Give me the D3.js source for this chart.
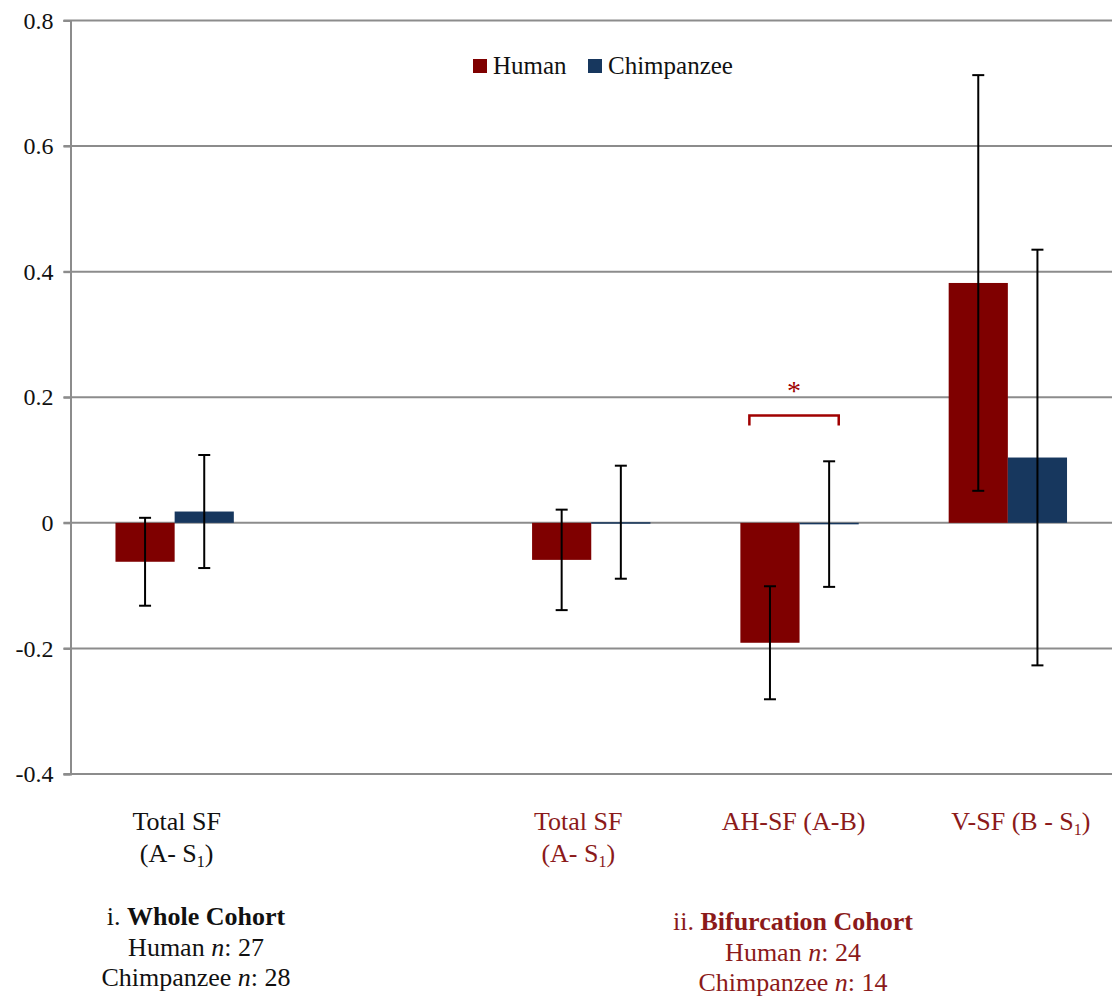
<!DOCTYPE html>
<html>
<head>
<meta charset="utf-8">
<script src="https://cdn.jsdelivr.net/npm/d3@7"></script>
<style>
  body { margin: 0; background: #fff; }
  svg text { font-family: "Liberation Serif", "DejaVu Serif", "Times New Roman", serif !important; }
</style>
</head>
<body>
<svg id="chart" width="1116" height="1003"></svg>
<script>
// chart data
const categories = ["whole", "gap", "total", "ah", "v"];
const series = ["Human", "Chimpanzee"];
const humanMeans = [-0.062, null, -0.059, -0.191, 0.382];
const humanErr = [0.070, null, 0.080, 0.090, 0.331];
const chimpMeans = [0.018, null, 0.001, -0.002, 0.104];
const chimpErr = [0.090, null, 0.090, 0.100, 0.331];
const yTicks = [-0.4, -0.2, 0, 0.2, 0.4, 0.6, 0.8];
const yTickLabels = ["-0.4", "-0.2", "0", "0.2", "0.4", "0.6", "0.8"];

const width = 1116, height = 1003;
const margin = { top: 20.5, right: 4, bottom: 229, left: 70.5 };
const colors = { Human: "#7f0000", Chimpanzee: "#17375e" };
const red = "#8b1a1a";
const serif = "'Liberation Serif', 'DejaVu Serif', serif";

const svg = d3.select("#chart");

// scales
let x = d3.scaleBand()
    .domain(categories)
    .range([margin.left, width - margin.right])
    .paddingInner(0)
    .paddingOuter(0);

let x1 = d3.scaleBand()
    .domain(series)
    .range([0, x.bandwidth()])
    .paddingInner(0)
    .paddingOuter(0.76);

let y = d3.scaleLinear()
    .domain([-0.4, 0.8])
    .range([height - margin.bottom, margin.top]);

// gridlines
svg.append("g")
    .selectAll("line")
    .data(yTicks)
    .join("line")
    .attr("x1", margin.left - 7)
    .attr("x2", width - margin.right)
    .attr("y1", d => y(d))
    .attr("y2", d => y(d))
    .attr("stroke", "#8c8c8c")
    .attr("stroke-width", 2);

// y axis
const yAxis = g => g
    .attr("transform", `translate(${margin.left},0)`)
    .call(d3.axisLeft(y)
        .tickValues(yTicks)
        .tickFormat((d, i) => yTickLabels[i])
        .tickSize(7)
        .tickPadding(10))
    .attr("font-family", serif)
    .call(g => g.selectAll(".tick line").attr("stroke", "#8c8c8c").attr("stroke-width", 2))
    .call(g => g.select(".domain").attr("stroke", "#8c8c8c").attr("stroke-width", 2))
    .call(g => g.selectAll(".tick text")
        .style("font-family", serif)
        .attr("font-size", 24)
        .attr("fill", "#111"));
svg.append("g").call(yAxis);

// bars
const rows = [];
categories.forEach((c, i) => {
    if (humanMeans[i] !== null) rows.push({ cat: c, s: "Human", v: humanMeans[i], e: humanErr[i] });
    if (chimpMeans[i] !== null) rows.push({ cat: c, s: "Chimpanzee", v: chimpMeans[i], e: chimpErr[i] });
});

svg.append("g")
    .selectAll("rect")
    .data(rows)
    .join("rect")
    .attr("x", d => x(d.cat) + x1(d.s))
    .attr("width", x1.bandwidth())
    .attr("y", d => Math.min(y(d.v), y(0)))
    .attr("height", d => Math.max(1.5, Math.abs(y(d.v) - y(0))))
    .attr("fill", d => colors[d.s]);

// error bars
const eb = svg.append("g")
    .attr("stroke", "#000")
    .attr("stroke-width", 2)
    .selectAll("g")
    .data(rows)
    .join("g")
    .attr("transform", d => `translate(${x(d.cat) + x1(d.s) + x1.bandwidth() / 2},0)`);
eb.append("line")
    .attr("y1", d => y(d.v + d.e))
    .attr("y2", d => y(d.v - d.e));
eb.append("line")
    .attr("x1", -6).attr("x2", 6)
    .attr("y1", d => y(d.v + d.e))
    .attr("y2", d => y(d.v + d.e));
eb.append("line")
    .attr("x1", -6).attr("x2", 6)
    .attr("y1", d => y(d.v - d.e))
    .attr("y2", d => y(d.v - d.e));

// significance bracket on AH-SF
const bx0 = x("ah") + x1("Human") + 9;
const bx1 = x("ah") + x1("Chimpanzee") + x1.bandwidth() - 20;
svg.append("path")
    .attr("d", `M${bx0},${y(0.155)}V${y(0.171)}H${bx1}V${y(0.155)}`)
    .attr("fill", "none")
    .attr("stroke", "#a00000")
    .attr("stroke-width", 2.5);
svg.append("text")
    .attr("x", (bx0 + bx1) / 2)
    .attr("y", y(0.171) - 15)
    .attr("text-anchor", "middle")
    .attr("font-size", 28)
    .attr("fill", "#a00000")
    .text("*");

// legend
const legend = svg.append("g").attr("font-size", 25).attr("fill", "#111");
const legendX = [473, 588];
series.forEach((s, i) => {
    legend.append("rect")
        .attr("x", legendX[i]).attr("y", 59)
        .attr("width", 14).attr("height", 14)
        .attr("fill", colors[s]);
    legend.append("text")
        .attr("x", legendX[i] + 20).attr("y", 74)
        .text(s);
});

// category labels
const catLabels = [
    { cat: "whole", dx: 2, lines: [["Total SF"], ["(A- S", "1", ")"]], color: "#111" },
    { cat: "total", dx: -13, lines: [["Total SF"], ["(A- S", "1", ")"]], color: red },
    { cat: "ah", dx: -6, lines: [["AH-SF (A-B)"]], color: red },
    { cat: "v", dx: 13, lines: [["V-SF (B - S", "1", ")"]], color: red }
];
const labG = svg.append("g").attr("font-size", 26).attr("text-anchor", "middle");
catLabels.forEach(l => {
    l.lines.forEach((parts, j) => {
        const t = labG.append("text")
            .attr("x", x(l.cat) + x.bandwidth() / 2 + l.dx)
            .attr("y", 830 + j * 32)
            .attr("fill", l.color);
        t.append("tspan").text(parts[0]);
        if (parts.length > 1) {
            t.append("tspan").attr("font-size", 16).attr("dy", 5).text(parts[1]);
            t.append("tspan").attr("dy", -5).text(parts[2]);
        }
    });
});

// cohort labels
const cohorts = [
    { cx: 196, y0: 925, prefix: "i. ", name: "Whole Cohort", h: "27", c: "28", color: "#111" },
    { cx: 793, y0: 930, prefix: "ii. ", name: "Bifurcation Cohort", h: "24", c: "14", color: red }
];
cohorts.forEach(c => {
    const g = svg.append("g").attr("font-size", 26).attr("text-anchor", "middle").attr("fill", c.color);
    const t0 = g.append("text").attr("x", c.cx).attr("y", c.y0);
    t0.append("tspan").text(c.prefix);
    t0.append("tspan").attr("font-weight", "bold").text(c.name);
    const t1 = g.append("text").attr("x", c.cx).attr("y", c.y0 + 31);
    t1.append("tspan").text("Human ");
    t1.append("tspan").attr("font-style", "italic").text("n");
    t1.append("tspan").text(": " + c.h);
    const t2 = g.append("text").attr("x", c.cx).attr("y", c.y0 + 61);
    t2.append("tspan").text("Chimpanzee ");
    t2.append("tspan").attr("font-style", "italic").text("n");
    t2.append("tspan").text(": " + c.c);
});
</script>
</body>
</html>
